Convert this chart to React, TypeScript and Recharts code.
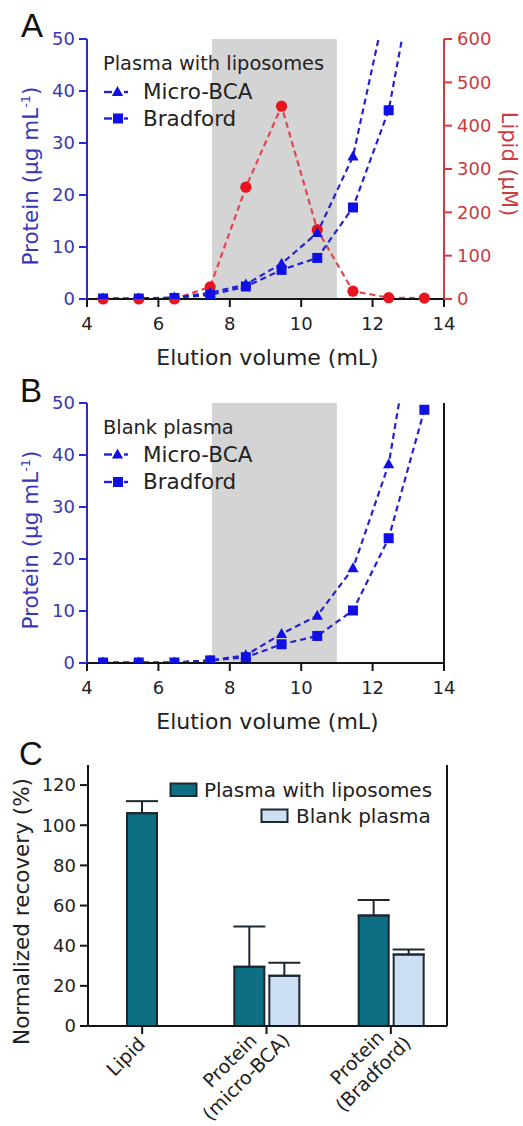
import React from "react";
import {
  ComposedChart,
  BarChart,
  Bar,
  ErrorBar,
  Line,
  XAxis,
  YAxis,
  ReferenceArea,
  Legend,
  Label,
} from "recharts";

// ---------------- data ----------------
const elutionVolume = [4.45, 5.45, 6.45, 7.45, 8.45, 9.45, 10.45, 11.45, 12.45, 13.45];
const lipidA = [0, 0, 0, 28, 258, 445, 160, 18, 3, 2];
const microBcaA = [0.1, 0.1, 0.3, 1.2, 2.8, 6.8, 12.7, 27.4, 59, 95];
const bradfordA = [0.1, 0.1, 0.2, 0.8, 2.4, 5.6, 7.9, 17.6, 36.3, 73];
const microBcaB = [0.1, 0.1, 0.1, 0.5, 1.5, 5.6, 9.1, 18.2, 38.2, 79];
const bradfordB = [0.1, 0.1, 0.1, 0.5, 1.1, 3.6, 5.2, 10.1, 24, 48.7];

const shadedFrom = 7.5;
const shadedTo = 11;

const xTicks = [4, 6, 8, 10, 12, 14];
const proteinTicks = [0, 10, 20, 30, 40, 50];
const lipidTicks = [0, 100, 200, 300, 400, 500, 600];
const recoveryTicks = [0, 20, 40, 60, 80, 100, 120];

const categories = ["Lipid", "Protein\n(micro-BCA)", "Protein\n(Bradford)"];
const plasmaRecovery = [106, 29.5, 55];
const plasmaError = [6, 20, 7.8];
const blankRecovery: (number | null)[] = [null, 25, 35.6];
const blankError: (number | null)[] = [null, 6.5, 2.5];

// ---------------- styles ----------------
const FONT = "'DejaVu Sans', Verdana, sans-serif";
const BLUE_LINE = "#2222d2";
const BLUE_MARK = "#1010e4";
const BLUE_AXIS = "#2a2ad0";
const BLUE_TEXT = "#3838b4";
const RED_LINE = "#e0474c";
const RED_MARK = "#e8141e";
const RED_AXIS = "#d8393f";
const RED_TEXT = "#cc3a42";
const BLACK = "#141414";
const TEXT = "#222";
const GRAY = "#d4d4d4";
const TEAL = "#0e6e84";
const LIGHT = "#cddff5";
const BAR_EDGE = "#1c2830";

const dataA = elutionVolume.map((v, i) => ({ v, lipid: lipidA[i], micro: microBcaA[i], brad: bradfordA[i] }));
const dataB = elutionVolume.map((v, i) => ({ v, micro: microBcaB[i], brad: bradfordB[i] }));
const barData = categories.map((cat, i) => {
  const solo = blankRecovery[i] == null;
  return {
    cat,
    solo: solo ? plasmaRecovery[i] : null,
    soloErr: solo ? [0, plasmaError[i]] : null,
    plasma: solo ? null : plasmaRecovery[i],
    plasmaErr: solo ? null : [0, plasmaError[i]],
    blank: blankRecovery[i],
    blankErr: blankError[i] == null ? null : [0, blankError[i] as number],
  };
});

// ---------------- markers ----------------
const triPath = (cx: number, cy: number) => `M${cx},${cy - 6} L${cx + 5.6},${cy + 4} L${cx - 5.6},${cy + 4} Z`;
const triangleDot = (p: any) => {
  if (p.cx == null || p.cy == null) return <g key={p.index} />;
  return <path key={p.index} d={triPath(p.cx, p.cy)} fill={BLUE_MARK} />;
};
const squareDot = (p: any) => {
  if (p.cx == null || p.cy == null) return <g key={p.index} />;
  return <rect key={p.index} x={p.cx - 5} y={p.cy - 5} width={10} height={10} fill={BLUE_MARK} />;
};
const circleDot = (p: any) => {
  if (p.cx == null || p.cy == null) return <g key={p.index} />;
  return <circle key={p.index} cx={p.cx} cy={p.cy} r={5.6} fill={RED_MARK} />;
};

// ---------------- text helpers ----------------
let measureCtx: CanvasRenderingContext2D | null = null;
const measure = (t: string, size: number) => {
  if (!measureCtx) {
    const c = document.createElement("canvas");
    measureCtx = c.getContext("2d");
  }
  if (!measureCtx) return t.length * size * 0.6;
  measureCtx.font = `${size}px "DejaVu Sans"`;
  return measureCtx.measureText(t).width;
};

const xTitle = (props: any) => {
  const vb = props.viewBox || { x: 87, y: 299, width: 357 };
  return (
    <text x={vb.x + vb.width / 2 + 2} y={vb.y + 66} textAnchor="middle" fontSize={22} fontFamily={FONT} fill={TEXT}>
      Elution volume (mL)
    </text>
  );
};

const proteinTitle = (props: any) => {
  const vb = props.viewBox || { y: 39, height: 260 };
  const cy = vb.y + vb.height / 2 + 7;
  return (
    <text transform={`translate(37.5, ${cy}) rotate(-90)`} textAnchor="middle" fontSize={21.5} fontFamily={FONT} fill={BLUE_TEXT}>
      Protein (µg mL
      <tspan dy={-8} fontSize={13}>-1</tspan>
      <tspan dy={8}>)</tspan>
    </text>
  );
};

const lipidTitle = (props: any) => {
  const vb = props.viewBox || { y: 39, height: 260 };
  const cy = vb.y + vb.height / 2 - 5;
  return (
    <text transform={`translate(501.5, ${cy}) rotate(90)`} textAnchor="middle" fontSize={21} fontFamily={FONT} fill={RED_TEXT}>
      Lipid (µM)
    </text>
  );
};

const recoveryTitle = (props: any) => {
  const vb = props.viewBox || { y: 35, height: 261 };
  const cy = vb.y + vb.height / 2 + 16;
  return (
    <text transform={`translate(28.5, ${cy}) rotate(-90)`} textAnchor="middle" fontSize={21.5} fontFamily={FONT} fill={TEXT}>
      Normalized recovery (%)
    </text>
  );
};

const CatTick = (props: any) => {
  const { x, y, payload } = props;
  const lines = String(payload.value).split("\n");
  const fs = 19;
  const lh = 23;
  const W = Math.max(...lines.map((l) => measure(l, fs)));
  const axisY = y - 8;
  const uc = -W / 4 - 22;
  const vc = 10;
  return (
    <g transform={`translate(${x},${axisY}) rotate(-45)`}>
      {lines.map((l, i) => (
        <text
          key={i}
          x={uc}
          y={vc + (i - (lines.length - 1) / 2) * lh}
          dy="0.35em"
          textAnchor="middle"
          fontSize={fs}
          fontFamily={FONT}
          fill={TEXT}
        >
          {l}
        </text>
      ))}
    </g>
  );
};

// ---------------- legends ----------------
const lineLegend = (title: string, top: number, rowGap: number, titleGap: number) => () => {
  const rows = [
    { label: "Micro-BCA", marker: "tri" },
    { label: "Bradford", marker: "sq" },
  ];
  return (
    <svg width={523} height={200} style={{ display: "block" }}>
      <text x={103} y={top} fontSize={19.4} fontFamily={FONT} fill={TEXT}>
        {title}
      </text>
      {rows.map((r, i) => {
        const base = top + titleGap + i * rowGap;
        const my = base - 7;
        return (
          <g key={r.label}>
            <line x1={104} x2={112} y1={my} y2={my} stroke={BLUE_LINE} strokeWidth={2.4} />
            {r.marker === "tri" ? (
              <path d={triPath(117.5, my)} fill={BLUE_MARK} />
            ) : (
              <rect x={113} y={my - 5} width={10} height={10} fill={BLUE_MARK} />
            )}
            <line x1={124} x2={128} y1={my} y2={my} stroke={BLUE_LINE} strokeWidth={2.4} />
            <text x={143} y={base} fontSize={21.5} fontFamily={FONT} fill={TEXT}>
              {r.label}
            </text>
          </g>
        );
      })}
    </svg>
  );
};

const legendA = lineLegend("Plasma with liposomes", 70, 26.5, 29);
const legendB = lineLegend("Blank plasma", 63.5, 27.5, 28);

const barLegend = () => (
  <svg width={523} height={120} style={{ display: "block" }}>
    <rect x={170.5} y={53.5} width={26} height={12.5} fill={TEAL} stroke={BAR_EDGE} strokeWidth={2} />
    <text x={204} y={67} fontSize={20} fontFamily={FONT} fill={TEXT}>
      Plasma with liposomes
    </text>
    <rect x={261.5} y={79.5} width={26} height={12.5} fill={LIGHT} stroke={BAR_EDGE} strokeWidth={2} />
    <text x={296} y={93} fontSize={20} fontFamily={FONT} fill={TEXT}>
      Blank plasma
    </text>
  </svg>
);

const legendWrap = { position: "absolute" as const, left: 0, top: 0, width: 523, margin: 0, pointerEvents: "none" as const };

const tickStyle = (fill: string) => ({ fill, fontSize: 18, fontFamily: FONT });

// ---------------- panels ----------------
const PanelA = () => (
  <ComposedChart width={523} height={370} data={dataA} margin={{ top: 39, right: 0, bottom: 0, left: 0 }}>
    <XAxis
      type="number"
      dataKey="v"
      domain={[4, 14]}
      ticks={xTicks}
      height={71}
      tickSize={8}
      tickMargin={10}
      axisLine={{ stroke: BLACK, strokeWidth: 2 }}
      tickLine={{ stroke: BLACK, strokeWidth: 2 }}
      tick={tickStyle(TEXT)}
    >
      <Label content={xTitle} />
    </XAxis>
    <XAxis xAxisId="top" type="number" orientation="top" domain={[4, 14]} height={0} tick={false} tickLine={false} axisLine={{ stroke: BLACK, strokeWidth: 2 }} />
    <YAxis
      yAxisId="left"
      domain={[0, 50]}
      ticks={proteinTicks}
      allowDataOverflow
      width={87}
      tickSize={8}
      tickMargin={4}
      axisLine={{ stroke: BLUE_AXIS, strokeWidth: 2 }}
      tickLine={{ stroke: BLUE_AXIS, strokeWidth: 2 }}
      tick={tickStyle(BLUE_TEXT)}
    >
      <Label content={proteinTitle} />
    </YAxis>
    <YAxis
      yAxisId="right"
      orientation="right"
      domain={[0, 600]}
      ticks={lipidTicks}
      width={79}
      tickSize={8}
      tickMargin={5}
      axisLine={{ stroke: RED_AXIS, strokeWidth: 2 }}
      tickLine={{ stroke: RED_AXIS, strokeWidth: 2 }}
      tick={tickStyle(RED_TEXT)}
    >
      <Label content={lipidTitle} />
    </YAxis>
    <ReferenceArea yAxisId="left" x1={shadedFrom} x2={shadedTo} fill={GRAY} fillOpacity={1} stroke="none" />
    <Line yAxisId="right" dataKey="lipid" type="linear" stroke={RED_LINE} strokeWidth={2.2} strokeDasharray="6 4" dot={circleDot} activeDot={false} isAnimationActive={false} />
    <Line yAxisId="left" dataKey="micro" type="linear" stroke={BLUE_LINE} strokeWidth={2.2} strokeDasharray="6 4" dot={triangleDot} activeDot={false} isAnimationActive={false} />
    <Line yAxisId="left" dataKey="brad" type="linear" stroke={BLUE_LINE} strokeWidth={2.2} strokeDasharray="6 4" dot={squareDot} activeDot={false} isAnimationActive={false} />
    <Legend layout="vertical" align="center" verticalAlign="middle" content={legendA} wrapperStyle={legendWrap} />
  </ComposedChart>
);

const PanelB = () => (
  <ComposedChart width={523} height={364} data={dataB} margin={{ top: 33, right: 0, bottom: 0, left: 0 }}>
    <XAxis
      type="number"
      dataKey="v"
      domain={[4, 14]}
      ticks={xTicks}
      height={71}
      tickSize={8}
      tickMargin={10}
      axisLine={{ stroke: BLACK, strokeWidth: 2 }}
      tickLine={{ stroke: BLACK, strokeWidth: 2 }}
      tick={tickStyle(TEXT)}
    >
      <Label content={xTitle} />
    </XAxis>
    <XAxis xAxisId="top" type="number" orientation="top" domain={[4, 14]} height={0} tick={false} tickLine={false} axisLine={{ stroke: BLACK, strokeWidth: 2 }} />
    <YAxis
      yAxisId="left"
      domain={[0, 50]}
      ticks={proteinTicks}
      allowDataOverflow
      width={87}
      tickSize={8}
      tickMargin={4}
      axisLine={{ stroke: BLUE_AXIS, strokeWidth: 2 }}
      tickLine={{ stroke: BLUE_AXIS, strokeWidth: 2 }}
      tick={tickStyle(BLUE_TEXT)}
    >
      <Label content={proteinTitle} />
    </YAxis>
    <YAxis yAxisId="right" orientation="right" domain={[0, 50]} width={79} tick={false} tickLine={false} axisLine={{ stroke: BLACK, strokeWidth: 2 }} />
    <ReferenceArea yAxisId="left" x1={shadedFrom} x2={shadedTo} fill={GRAY} fillOpacity={1} stroke="none" />
    <Line yAxisId="left" dataKey="micro" type="linear" stroke={BLUE_LINE} strokeWidth={2.2} strokeDasharray="6 4" dot={triangleDot} activeDot={false} isAnimationActive={false} />
    <Line yAxisId="left" dataKey="brad" type="linear" stroke={BLUE_LINE} strokeWidth={2.2} strokeDasharray="6 4" dot={squareDot} activeDot={false} isAnimationActive={false} />
    <Legend layout="vertical" align="center" verticalAlign="middle" content={legendB} wrapperStyle={legendWrap} />
  </ComposedChart>
);

const barPad = { left: -8, right: -6 };

const PanelC = () => (
  <BarChart width={523} height={396} data={barData} margin={{ top: 35, right: 0, bottom: 0, left: 0 }} barGap={5}>
    <XAxis
      xAxisId="main"
      dataKey="cat"
      interval={0}
      height={100}
      padding={barPad}
      tickSize={8}
      tickMargin={0}
      axisLine={{ stroke: BLACK, strokeWidth: 2 }}
      tickLine={{ stroke: BLACK, strokeWidth: 2 }}
      tick={<CatTick />}
    />
    <XAxis xAxisId="solo" dataKey="cat" hide padding={barPad} />
    <XAxis xAxisId="top" dataKey="cat" orientation="top" height={0} tick={false} tickLine={false} axisLine={{ stroke: BLACK, strokeWidth: 2 }} />
    <YAxis
      yAxisId="left"
      domain={[0, 130]}
      ticks={recoveryTicks}
      width={88}
      tickSize={8}
      tickMargin={4}
      axisLine={{ stroke: BLACK, strokeWidth: 2 }}
      tickLine={{ stroke: BLACK, strokeWidth: 2 }}
      tick={tickStyle(TEXT)}
    >
      <Label content={recoveryTitle} />
    </YAxis>
    <YAxis yAxisId="right" orientation="right" domain={[0, 130]} width={76} tick={false} tickLine={false} axisLine={{ stroke: BLACK, strokeWidth: 2 }} />
    <Bar xAxisId="solo" yAxisId="left" dataKey="solo" barSize={30} fill={TEAL} stroke={BAR_EDGE} strokeWidth={2} isAnimationActive={false}>
      <ErrorBar dataKey="soloErr" width={16} strokeWidth={2} stroke={BAR_EDGE} direction="y" />
    </Bar>
    <Bar xAxisId="main" yAxisId="left" dataKey="plasma" barSize={30} fill={TEAL} stroke={BAR_EDGE} strokeWidth={2} isAnimationActive={false}>
      <ErrorBar dataKey="plasmaErr" width={16} strokeWidth={2} stroke={BAR_EDGE} direction="y" />
    </Bar>
    <Bar xAxisId="main" yAxisId="left" dataKey="blank" barSize={30} fill={LIGHT} stroke={BAR_EDGE} strokeWidth={2} isAnimationActive={false}>
      <ErrorBar dataKey="blankErr" width={16} strokeWidth={2} stroke={BAR_EDGE} direction="y" />
    </Bar>
    <Legend layout="vertical" align="center" verticalAlign="middle" content={barLegend} wrapperStyle={legendWrap} />
  </BarChart>
);

export default function App() {
  return (
    <div style={{ position: "absolute", left: 0, top: 0, width: 523, height: 1126, overflow: "hidden", background: "#fff" }}>
      <div style={{ position: "absolute", left: 0, top: 0 }}>
        <PanelA />
      </div>
      <div style={{ position: "absolute", left: 0, top: 370 }}>
        <PanelB />
      </div>
      <div style={{ position: "absolute", left: 0, top: 730 }}>
        <PanelC />
      </div>
      <svg width={523} height={1126} style={{ position: "absolute", left: 0, top: 0, pointerEvents: "none" }}>
        <text x={21} y={37} fontSize={33} fontFamily="'Liberation Sans', Arial, sans-serif" fill="#111">A</text>
        <text x={20} y={402} fontSize={33} fontFamily="'Liberation Sans', Arial, sans-serif" fill="#111">B</text>
        <text x={19} y={765} fontSize={33} fontFamily="'Liberation Sans', Arial, sans-serif" fill="#111">C</text>
      </svg>
    </div>
  );
}
